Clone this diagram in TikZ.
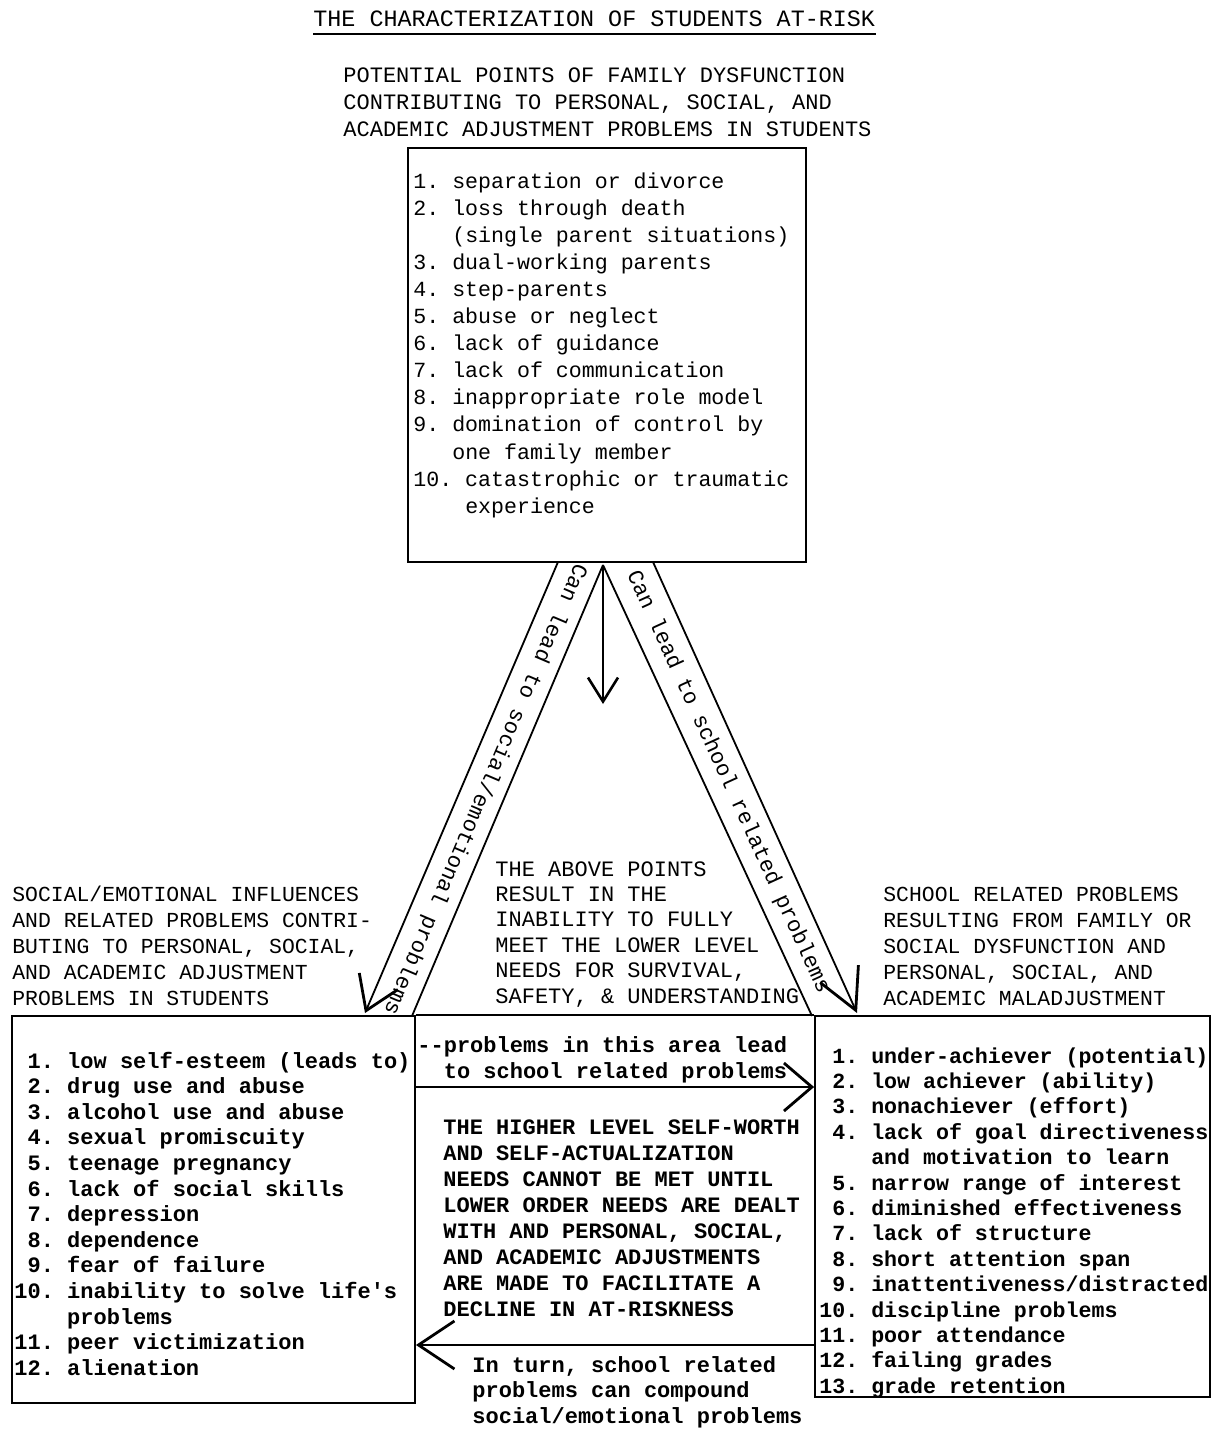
\documentclass[tikz,border=0pt]{standalone}
\usepackage{fontspec}
\newfontfamily\tw{Liberation Mono}
\usetikzlibrary{arrows.meta}
\newcommand{\fs}[2]{\tw\frenchspacing\fontsize{#1}{#2}\selectfont}
\newcommand{\blk}[1]{\begin{tabular}[t]{@{}l@{}}#1\end{tabular}}
\begin{document}
\begin{tikzpicture}[x=0.5pt,y=-0.5pt,
  ln/.style={line width=0.9pt},
  box/.style={draw,line width=0.9pt,inner sep=0pt},
  txt/.style={anchor=base west,inner sep=0pt},
  barbA/.style={-{Straight Barb[length=16pt,width=21pt,line width=1.4pt]}},
  barbB/.style={-{Straight Barb[length=20pt,width=21pt,line width=1.4pt]}},
  barbC/.style={-{Straight Barb[length=12pt,width=15pt,line width=1.3pt]}},
  barbD/.style={-{Straight Barb[length=14pt,width=24pt,line width=1.4pt]}},
  barbE/.style={-{Straight Barb[length=18pt,width=24pt,line width=1.4pt]}}
]
\fill[white] (0,0) rectangle (1213,1430);
\useasboundingbox (0,0) rectangle (1213,1430);

% title and subtitle
\node[txt,font=\fs{11.7}{14}] (ttl) at (313,26) {THE CHARACTERIZATION OF STUDENTS AT-RISK};
\draw[line width=0.8pt] ([yshift=-4pt]ttl.base west) -- ([yshift=-4pt]ttl.base east);
\node[txt,font=\fs{11}{13.5}] (sub) at (343,82) {\blk{POTENTIAL POINTS OF FAMILY DYSFUNCTION\\
CONTRIBUTING TO PERSONAL, SOCIAL, AND\\
ACADEMIC ADJUSTMENT PROBLEMS IN STUDENTS}};

% top box
\node[box,minimum width=199pt,minimum height=207pt] (fam) at (607,355) {};
\node[txt,font=\fs{10.8}{13.55}] (famtxt) at (413,188) {\blk{1. separation or divorce\\
2. loss through death\\
~~~(single parent situations)\\
3. dual-working parents\\
4. step-parents\\
5. abuse or neglect\\
6. lack of guidance\\
7. lack of communication\\
8. inappropriate role model\\
9. domination of control by\\
~~~one family member\\
10. catastrophic or traumatic\\
~~~~experience}};

% band coordinates
\coordinate (apex) at (603,565);
\coordinate (lo1) at (558,562);
\coordinate (lo2) at (365,1013);
\coordinate (li2) at (412,1016);
\coordinate (ri2) at (812,1016);
\coordinate (ro1) at (653,562);
\coordinate (ro2) at (857,1013);
\coordinate (dn) at (603,704);

\draw[ln,barbA] (lo1) -- (lo2);
\draw[ln] (apex) -- (li2);
\draw[ln] (apex) -- (ri2);
\draw[ln,barbB] (ro1) -- (ro2);
\draw[ln,barbC] (apex) -- (dn);

\node[font=\fs{11}{13},rotate=-113.06,inner sep=0pt] (bandL) at (485,789) {Can lead to social/emotional problems};
\node[font=\fs{11}{13},rotate=-65.45,inner sep=0pt] (bandR) at (728,782) {Can lead to school related problems};

% headings
\node[txt,font=\fs{10.7}{13.1}] (hL) at (12,901) {\blk{SOCIAL/EMOTIONAL INFLUENCES\\
AND RELATED PROBLEMS CONTRI-\\
BUTING TO PERSONAL, SOCIAL,\\
AND ACADEMIC ADJUSTMENT\\
PROBLEMS IN STUDENTS}};
\node[txt,font=\fs{11}{12.7}] (hM) at (495,876) {\blk{THE ABOVE POINTS\\
RESULT IN THE\\
INABILITY TO FULLY\\
MEET THE LOWER LEVEL\\
NEEDS FOR SURVIVAL,\\
SAFETY, \& UNDERSTANDING}};
\node[txt,font=\fs{10.7}{13.1}] (hR) at (883,901) {\blk{SCHOOL RELATED PROBLEMS\\
RESULTING FROM FAMILY OR\\
SOCIAL DYSFUNCTION AND\\
PERSONAL, SOCIAL, AND\\
ACADEMIC MALADJUSTMENT}};

% bottom boxes
\node[box,minimum width=201.5pt,minimum height=193.5pt] (Lbox) at (213.5,1209.5) {};
\node[box,minimum width=197.5pt,minimum height=190.5pt] (Rbox) at (1012.5,1206.5) {};
\draw[ln] (Lbox.north east) -- (Rbox.north west);

\node[txt,font=\bfseries\fs{11}{12.8}] (Ltxt) at (14,1068) {\blk{~1. low self-esteem (leads to)\\
~2. drug use and abuse\\
~3. alcohol use and abuse\\
~4. sexual promiscuity\\
~5. teenage pregnancy\\
~6. lack of social skills\\
~7. depression\\
~8. dependence\\
~9. fear of failure\\
10. inability to solve life's\\
~~~~problems\\
11. peer victimization\\
12. alienation}};

\node[txt,font=\bfseries\fs{10.8}{12.7}] (Rtxt) at (819,1063) {\blk{~1. under-achiever (potential)\\
~2. low achiever (ability)\\
~3. nonachiever (effort)\\
~4. lack of goal directiveness\\
~~~~and motivation to learn\\
~5. narrow range of interest\\
~6. diminished effectiveness\\
~7. lack of structure\\
~8. short attention span\\
~9. inattentiveness/distracted\\
10. discipline problems\\
11. poor attendance\\
12. failing grades\\
13. grade retention}};

% middle bottom
\coordinate (h1) at (0,1087);
\coordinate (h2) at (0,1345);
\draw[ln,barbD] (Lbox.east |- h1) -- (Rbox.west |- h1);
\draw[ln,barbE] (Rbox.west |- h2) -- (Lbox.east |- h2);

\node[txt,font=\bfseries\fs{11}{13}] (prob) at (417,1052) {\blk{-{}-problems in this area lead\\
~~to school related problems}};
\node[txt,font=\bfseries\fs{11}{13}] (high) at (443,1134) {\blk{THE HIGHER LEVEL SELF-WORTH\\
AND SELF-ACTUALIZATION\\
NEEDS CANNOT BE MET UNTIL\\
LOWER ORDER NEEDS ARE DEALT\\
WITH AND PERSONAL, SOCIAL,\\
AND ACADEMIC ADJUSTMENTS\\
ARE MADE TO FACILITATE A\\
DECLINE IN AT-RISKNESS}};
\node[txt,font=\bfseries\fs{11}{12.75}] (turn) at (472,1372) {\blk{In turn, school related\\
problems can compound\\
social/emotional problems}};
\end{tikzpicture}
\end{document}
